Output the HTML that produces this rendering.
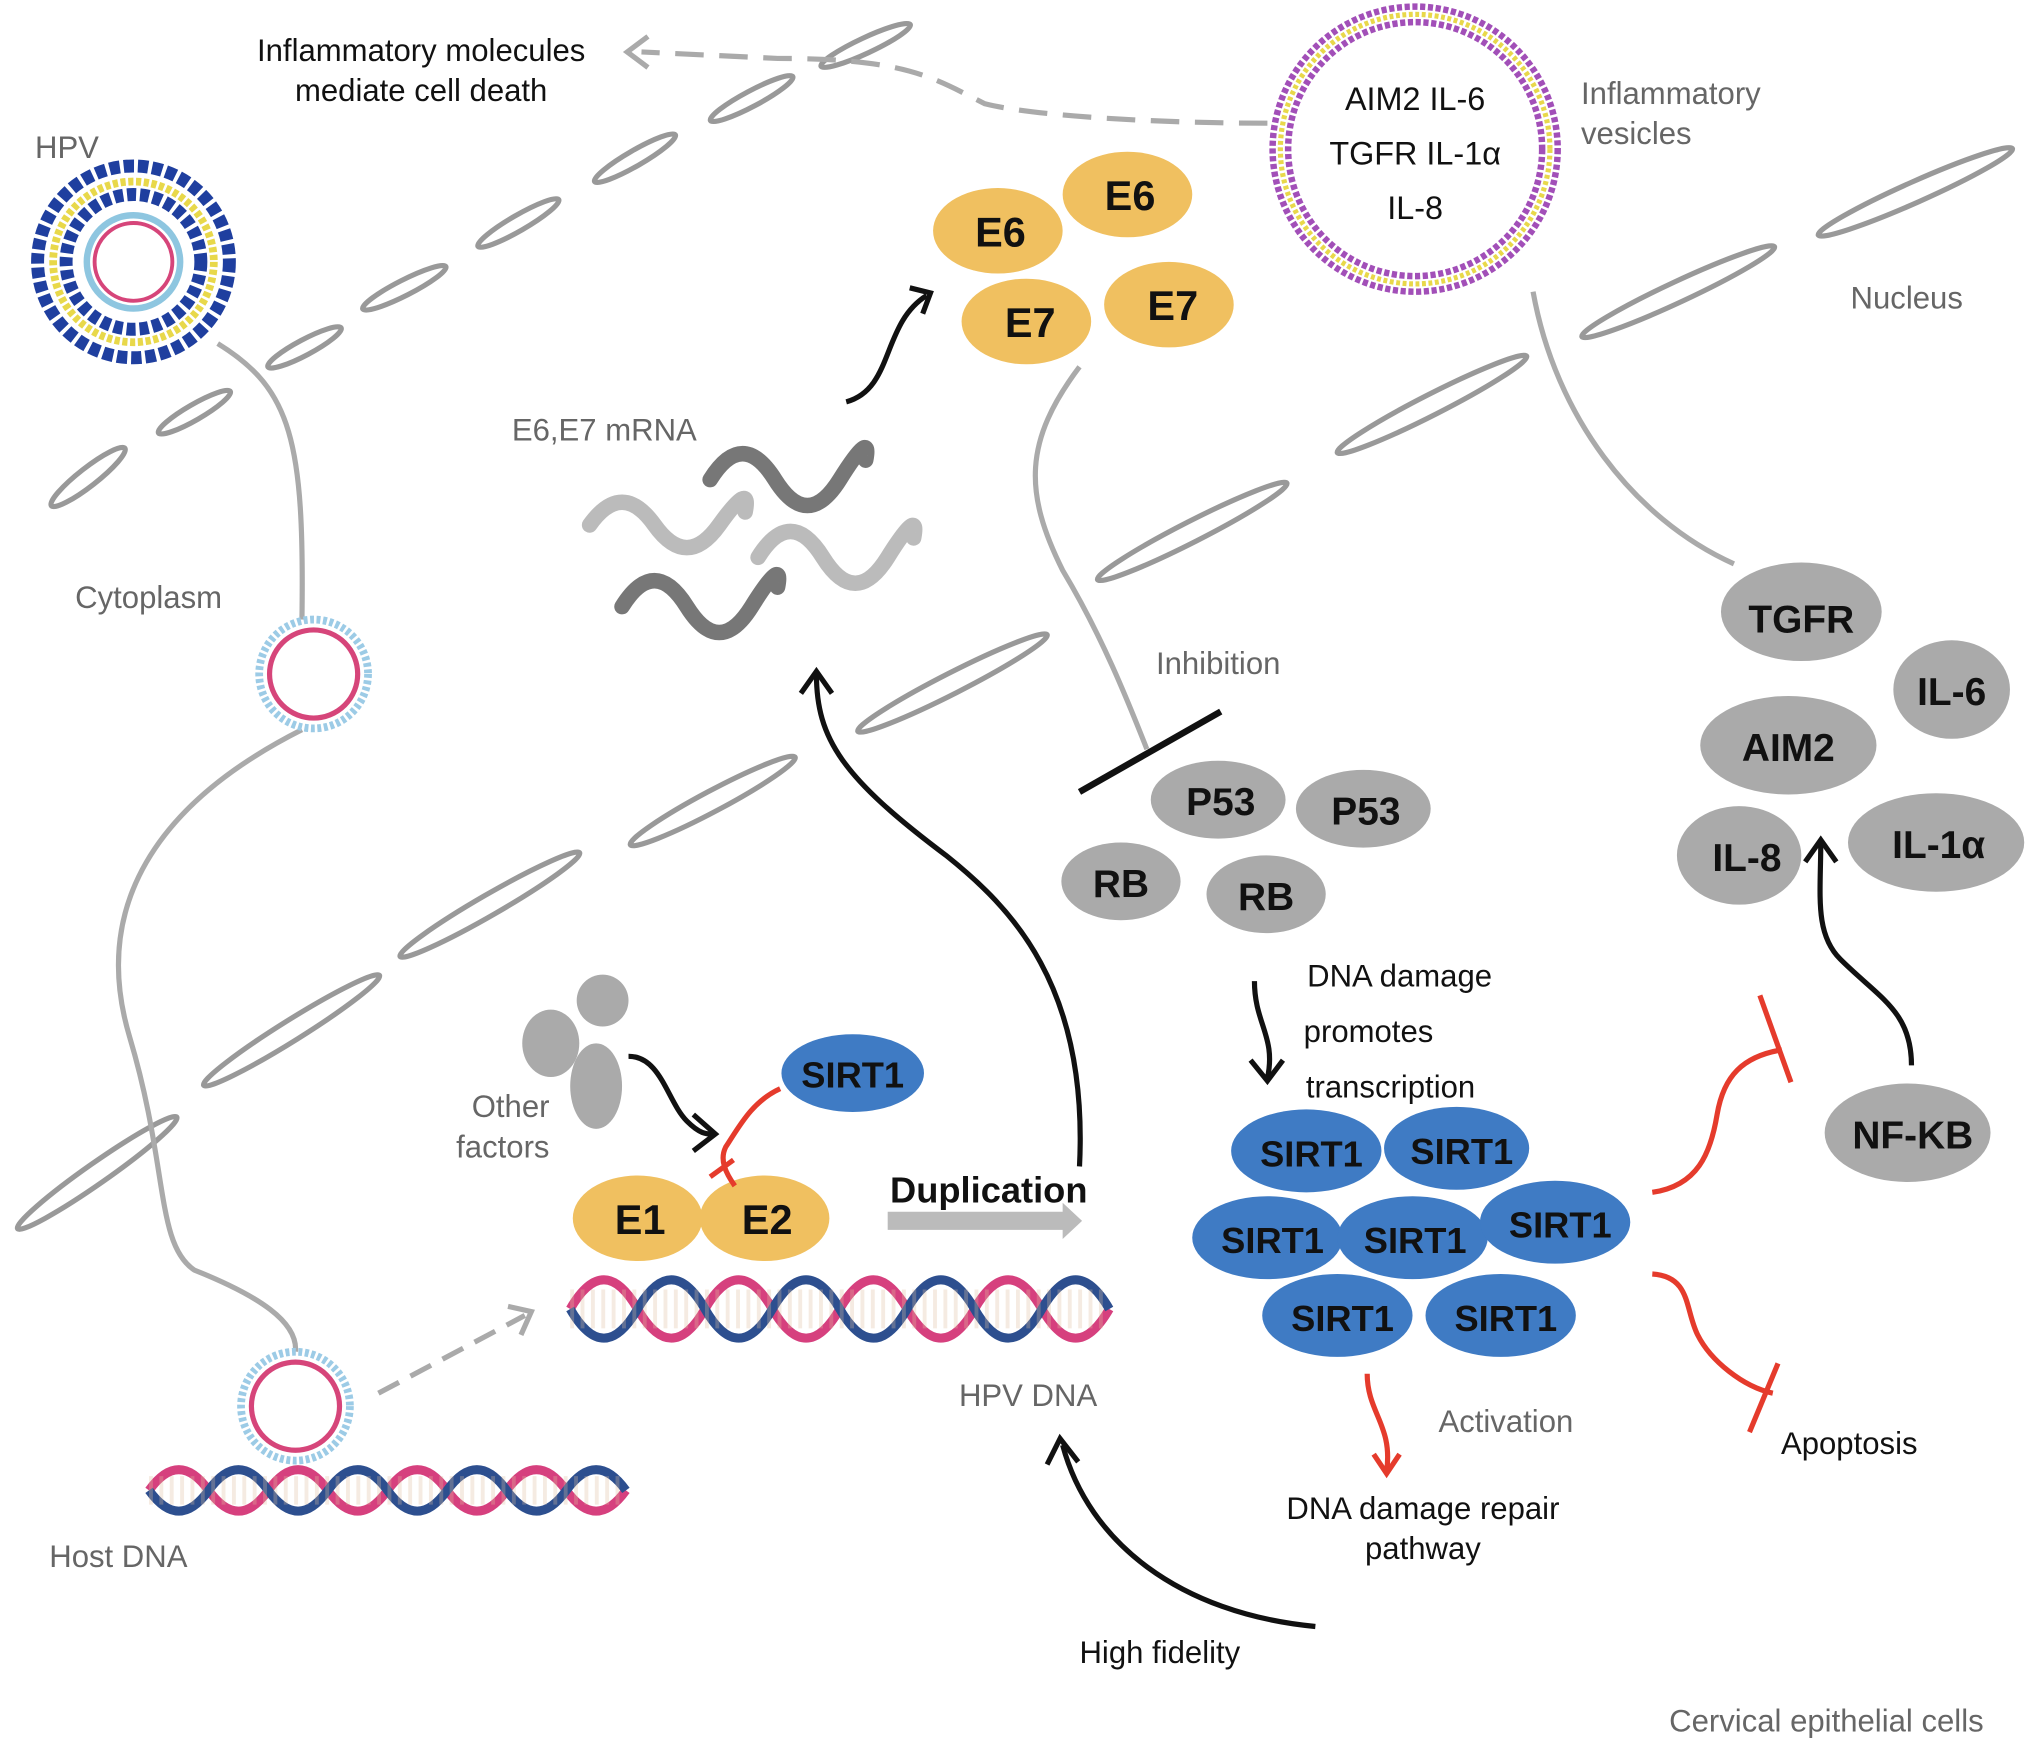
<!DOCTYPE html>
<html><head><meta charset="utf-8"><style>
html,body{margin:0;padding:0;background:#fff}
svg{display:block}
text{font-family:"Liberation Sans",sans-serif}
</style></head><body>
<svg width="2032" height="1751" viewBox="0 0 1568 1351" xmlns="http://www.w3.org/2000/svg">
<defs>
<marker id="ab" markerWidth="10" markerHeight="10" refX="5" refY="5" orient="auto" markerUnits="userSpaceOnUse" viewBox="0 0 10 10"><path d="M0,0 L6,5 L0,10" fill="none" stroke="#111" stroke-width="2"/></marker>
</defs>
<!-- membranes -->
<g fill="#fff" stroke="#999" stroke-width="4">
<ellipse cx="68" cy="368" rx="36" ry="7" transform="rotate(-38 68 368)"/>
<ellipse cx="150" cy="318" rx="32" ry="6" transform="rotate(-30 150 318)"/>
<ellipse cx="235" cy="268" rx="32" ry="6" transform="rotate(-28 235 268)"/>
<ellipse cx="312" cy="222" rx="36" ry="6" transform="rotate(-27 312 222)"/>
<ellipse cx="400" cy="172" rx="36" ry="6" transform="rotate(-30 400 172)"/>
<ellipse cx="490" cy="122" rx="36" ry="6" transform="rotate(-30 490 122)"/>
<ellipse cx="580" cy="76" rx="36" ry="6" transform="rotate(-28 580 76)"/>
<ellipse cx="668" cy="35" rx="38" ry="6" transform="rotate(-25 668 35)"/>
<ellipse cx="75" cy="905" rx="75" ry="8" transform="rotate(-35 75 905)"/>
<ellipse cx="225" cy="795" rx="80" ry="8" transform="rotate(-32 225 795)"/>
<ellipse cx="378" cy="698" rx="80" ry="8" transform="rotate(-30 378 698)"/>
<ellipse cx="550" cy="618" rx="72" ry="8" transform="rotate(-28 550 618)"/>
<ellipse cx="735" cy="527" rx="82" ry="8" transform="rotate(-27 735 527)"/>
<ellipse cx="920" cy="410" rx="82" ry="8" transform="rotate(-27 920 410)"/>
<ellipse cx="1105" cy="312" rx="82" ry="8" transform="rotate(-27 1105 312)"/>
<ellipse cx="1295" cy="225" rx="82" ry="8" transform="rotate(-25 1295 225)"/>
<ellipse cx="1478" cy="148" rx="82" ry="8" transform="rotate(-24 1478 148)"/>
</g>
<!-- gray connecting lines -->
<g fill="none" stroke="#aaa" stroke-width="4">
<path d="M168,265 C225,300 235,340 233,478"/>
<path d="M233,563 C120,620 70,700 100,800 C130,900 120,960 150,980 C200,1000 230,1020 228,1043"/>
<path d="M833,283 C790,340 790,380 820,440 C850,490 870,540 885,578"/>
<path d="M1183,225 C1200,320 1260,400 1338,435"/>
</g>
<path d="M978,95 C900,95 800,90 760,80 C720,60 700,45 600,45 L495,40" fill="none" stroke="#aaa" stroke-width="4" stroke-dasharray="22,12"/>
<path d="M500,28 L484,40 L500,52" fill="none" stroke="#aaa" stroke-width="4"/>
<!-- HPV particle -->
<circle cx="103" cy="202" r="74" fill="none" stroke="#1f3f9f" stroke-width="10" stroke-dasharray="8,3"/>
<circle cx="103" cy="202" r="62" fill="none" stroke="#e8d84a" stroke-width="6" stroke-dasharray="4,2"/>
<circle cx="103" cy="202" r="52" fill="none" stroke="#1f3f9f" stroke-width="10" stroke-dasharray="7,3"/>
<circle cx="103" cy="202" r="36" fill="#fff" stroke="#8ec6e0" stroke-width="5"/>
<circle cx="103" cy="202" r="30" fill="#fff" stroke="#d6457a" stroke-width="3"/>
<!-- vesicles -->
<g>
<circle cx="242" cy="520" r="42" fill="#fff" stroke="#9ccbe6" stroke-width="6" stroke-dasharray="3,2"/>
<circle cx="242" cy="520" r="34" fill="#fff" stroke="#d6457a" stroke-width="4"/>
<circle cx="228" cy="1085" r="42" fill="#fff" stroke="#9ccbe6" stroke-width="6" stroke-dasharray="3,2"/>
<circle cx="228" cy="1085" r="34" fill="#fff" stroke="#d6457a" stroke-width="4"/>
</g>
<!-- inflammatory vesicle -->
<circle cx="1092" cy="115" r="110" fill="#fff" stroke="#a24fb8" stroke-width="5" stroke-dasharray="4,2"/>
<circle cx="1092" cy="115" r="104" fill="none" stroke="#e8d84a" stroke-width="4" stroke-dasharray="3,2"/>
<circle cx="1092" cy="115" r="98" fill="none" stroke="#a24fb8" stroke-width="5" stroke-dasharray="4,2"/>
<g font-size="25" fill="#111" text-anchor="middle">
<text x="1092" y="85">AIM2 IL-6</text>
<text x="1092" y="127">TGFR IL-1α</text>
<text x="1092" y="169">IL-8</text>
</g>
<!-- DNA helices -->
<g fill="none" stroke-width="7">
<path d="M440,1010 q26,-45 52,0 t52,0 t52,0 t52,0 t52,0 t52,0 t52,0 t52,0" stroke="#d6407e"/>
<path d="M440,1010 q26,45 52,0 t52,0 t52,0 t52,0 t52,0 t52,0 t52,0 t52,0" stroke="#2d4f8f"/>
<path d="M115,1150 q23,-32 46,0 t46,0 t46,0 t46,0 t46,0 t46,0 t46,0 t46,0" stroke="#d6407e"/>
<path d="M115,1150 q23,32 46,0 t46,0 t46,0 t46,0 t46,0 t46,0 t46,0 t46,0" stroke="#2d4f8f"/>
</g>
<g stroke="#b07030" stroke-width="3" stroke-dasharray="3,5">
<line x1="440" y1="1010" x2="856" y2="1010" stroke-width="30" stroke="#e0c0a0" opacity="0.3"/>
<line x1="115" y1="1150" x2="483" y2="1150" stroke-width="22" stroke="#e0c0a0" opacity="0.3"/>
</g>
<!-- dashed arrow from host -->
<path d="M292,1075 L405,1015" stroke="#aaa" stroke-width="4" stroke-dasharray="18,10" fill="none"/>
<path d="M392,1008 L410,1012 L402,1030" stroke="#aaa" stroke-width="4" fill="none"/>
<!-- mRNA -->
<g fill="none" stroke-width="12" stroke-linecap="round">
<path d="M548,370 q25,-40 50,0 t50,0 t20,-15" stroke="#777"/>
<path d="M455,405 q25,-35 50,0 t50,0 t20,-10" stroke="#bbb"/>
<path d="M585,430 q25,-40 50,0 t50,0 t20,-15" stroke="#bbb"/>
<path d="M480,468 q25,-40 50,0 t50,0 t20,-15" stroke="#777"/>
</g>
<!-- E6 E7 -->
<g fill="#f0c060">
<ellipse cx="770" cy="178" rx="50" ry="33"/>
<ellipse cx="870" cy="150" rx="50" ry="33"/>
<ellipse cx="792" cy="248" rx="50" ry="33"/>
<ellipse cx="902" cy="235" rx="50" ry="33"/>
<ellipse cx="492" cy="940" rx="50" ry="33"/>
<ellipse cx="590" cy="940" rx="50" ry="33"/>
</g>
<g font-size="32" font-weight="bold" fill="#111" text-anchor="middle">
<text x="772" y="190">E6</text><text x="872" y="162">E6</text>
<text x="795" y="260">E7</text><text x="905" y="247">E7</text>
<text x="494" y="952">E1</text><text x="592" y="952">E2</text>
</g>
<!-- gray proteins -->
<g fill="#aaa">
<ellipse cx="940" cy="617" rx="52" ry="30"/>
<ellipse cx="1052" cy="624" rx="52" ry="30"/>
<ellipse cx="865" cy="680" rx="46" ry="30"/>
<ellipse cx="977" cy="690" rx="46" ry="30"/>
<ellipse cx="1390" cy="472" rx="62" ry="38"/>
<ellipse cx="1506" cy="532" rx="45" ry="38"/>
<ellipse cx="1380" cy="575" rx="68" ry="38"/>
<ellipse cx="1342" cy="660" rx="48" ry="38"/>
<ellipse cx="1494" cy="650" rx="68" ry="38"/>
<ellipse cx="1472" cy="874" rx="64" ry="38"/>
<ellipse cx="425" cy="805" rx="22" ry="26"/>
<ellipse cx="465" cy="772" rx="20" ry="20"/>
<ellipse cx="460" cy="838" rx="20" ry="33"/>
</g>
<g font-size="30" font-weight="bold" fill="#111" text-anchor="middle">
<text x="942" y="629">P53</text><text x="1054" y="636">P53</text>
<text x="865" y="692">RB</text><text x="977" y="702">RB</text>
<text x="1390" y="488">TGFR</text><text x="1506" y="544">IL-6</text>
<text x="1380" y="587">AIM2</text><text x="1348" y="672">IL-8</text>
<text x="1496" y="662">IL-1α</text><text x="1476" y="886">NF-KB</text>
</g>
<!-- SIRT1 -->
<g fill="#3f7bc4">
<ellipse cx="658" cy="828" rx="55" ry="30"/>
<ellipse cx="1008" cy="888" rx="58" ry="32"/>
<ellipse cx="1124" cy="886" rx="56" ry="32"/>
<ellipse cx="978" cy="955" rx="58" ry="32"/>
<ellipse cx="1090" cy="955" rx="58" ry="32"/>
<ellipse cx="1200" cy="943" rx="58" ry="32"/>
<ellipse cx="1032" cy="1015" rx="58" ry="32"/>
<ellipse cx="1158" cy="1015" rx="58" ry="32"/>
</g>
<g font-size="28" font-weight="bold" fill="#111" text-anchor="middle">
<text x="658" y="839">SIRT1</text>
<text x="1012" y="900">SIRT1</text><text x="1128" y="898">SIRT1</text>
<text x="982" y="967">SIRT1</text><text x="1092" y="967">SIRT1</text>
<text x="1204" y="955">SIRT1</text><text x="1036" y="1027">SIRT1</text>
<text x="1162" y="1027">SIRT1</text>
</g>
<!-- inhibition bar -->
<line x1="833" y1="611" x2="942" y2="549" stroke="#111" stroke-width="5"/>
<!-- black arrows -->
<g fill="none" stroke="#111" stroke-width="4">
<path d="M653,310 C690,300 680,250 715,228"/><path d="M702,222 L718,226 L712,242"/>
<path d="M833,900 C840,760 780,700 730,660 C650,600 630,570 630,520"/><path d="M618,535 L630,518 L642,535"/>
<path d="M1015,1255 C910,1245 840,1190 820,1115"/><path d="M808,1130 L818,1110 L832,1128"/>
<path d="M968,757 C968,790 985,800 978,832"/><path d="M965,818 L978,834 L990,818"/>
<path d="M1475,822 C1475,780 1450,770 1420,740 C1400,720 1405,690 1405,650"/><path d="M1393,665 L1405,648 L1417,665"/>
<path d="M485,815 C510,815 515,850 530,865 C540,875 545,875 550,875"/><path d="M535,860 L552,875 L535,888"/>
</g>
<!-- red -->
<g fill="none" stroke="#e53b2c" stroke-width="4">
<path d="M602,840 C580,850 570,870 560,885 C555,895 560,905 567,915"/><line x1="548" y1="908" x2="566" y2="895"/>
<path d="M1275,920 C1310,915 1320,890 1325,860 C1330,830 1345,815 1375,810"/><line x1="1358" y1="768" x2="1382" y2="835"/>
<path d="M1275,983 C1305,985 1300,1010 1310,1030 C1320,1050 1345,1070 1368,1075"/><line x1="1350" y1="1105" x2="1372" y2="1052"/>
<path d="M1055,1060 C1055,1090 1075,1100 1070,1135"/><path d="M1060,1122 L1070,1137 L1080,1122"/>
</g>
<!-- Duplication arrow -->
<path d="M685,935 L820,935 L820,928 L835,942 L820,956 L820,949 L685,949 Z" fill="#bbb"/>
<text x="763" y="928" font-size="28" font-weight="bold" fill="#111" text-anchor="middle">Duplication</text>
<!-- labels -->
<g font-size="24" fill="#111" text-anchor="middle">
<text x="325" y="47">Inflammatory molecules</text>
<text x="325" y="78">mediate cell death</text>
<text x="1080" y="761">DNA damage</text>
<text x="1056" y="804">promotes</text>
<text x="1073" y="847">transcription</text>
<text x="1098" y="1172">DNA damage repair</text>
<text x="1098" y="1203">pathway</text>
<text x="1427" y="1122">Apoptosis</text>
<text x="895" y="1283">High fidelity</text>
</g>
<g font-size="24" fill="#666">
<text x="27" y="122">HPV</text>
<text x="58" y="469">Cytoplasm</text>
<text x="38" y="1209">Host DNA</text>
<text x="395" y="340">E6,E7 mRNA</text>
<text x="1220" y="80">Inflammatory</text>
<text x="1220" y="111">vesicles</text>
<text x="1428" y="238">Nucleus</text>
<text x="892" y="520">Inhibition</text>
<text x="740" y="1085">HPV DNA</text>
<text x="1110" y="1105">Activation</text>
<text x="1288" y="1336">Cervical epithelial cells</text>
<text x="424" y="862" text-anchor="end">Other</text>
<text x="424" y="893" text-anchor="end">factors</text>
</g>
</svg>
</body></html>
